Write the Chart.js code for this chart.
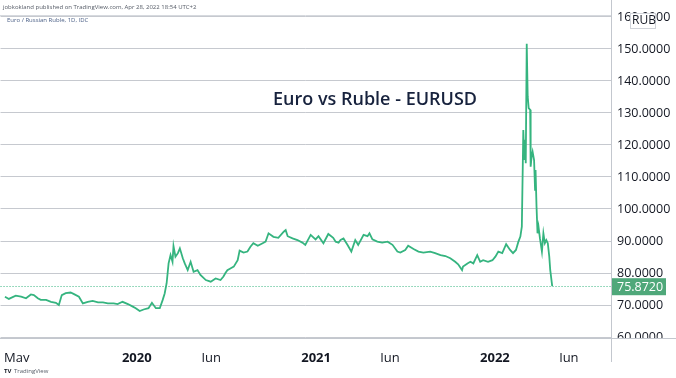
<!DOCTYPE html>
<html>
<head>
<meta charset="utf-8">
<script src="https://cdn.jsdelivr.net/npm/chart.js@4/dist/chart.umd.min.js"></script>
<style>
  html, body { margin: 0; padding: 0; background: #fff; }
  canvas { display: block; }
</style>
</head>
<body>
<canvas id="eurRubChart" width="676" height="378"></canvas>
<script>
// EUR/RUB daily close
const dates = [
  '2019-04-07','2019-04-15','2019-04-29','2019-05-10','2019-05-20','2019-05-30','2019-06-05','2019-06-13','2019-06-19','2019-06-30',
  '2019-07-10','2019-07-20','2019-07-26','2019-08-01','2019-08-09','2019-08-19','2019-08-26','2019-09-05','2019-09-13','2019-09-23',
  '2019-10-03','2019-10-14','2019-10-24','2019-11-03','2019-11-15','2019-11-23','2019-12-03','2019-12-14','2019-12-24','2019-12-30',
  '2020-01-07','2020-01-15','2020-01-25','2020-02-01','2020-02-09','2020-02-17','2020-02-23','2020-02-27','2020-03-02','2020-03-06',
  '2020-03-10','2020-03-14','2020-03-16','2020-03-20','2020-03-25','2020-03-29','2020-04-04','2020-04-08','2020-04-14','2020-04-20',
  '2020-04-26','2020-05-04','2020-05-10','2020-05-21','2020-05-31','2020-06-10','2020-06-20','2020-06-26','2020-06-30','2020-07-04',
  '2020-07-11','2020-07-17','2020-07-25','2020-07-29','2020-08-06','2020-08-14','2020-08-20','2020-08-26','2020-09-04','2020-09-14',
  '2020-09-20','2020-09-26','2020-10-06','2020-10-16','2020-10-27','2020-10-31','2020-11-04','2020-11-14','2020-11-24','2020-12-04',
  '2020-12-10','2020-12-21','2020-12-31','2021-01-06','2021-01-16','2021-01-26','2021-02-05','2021-02-10','2021-02-16','2021-02-20',
  '2021-02-26','2021-03-06','2021-03-14','2021-03-22','2021-03-28','2021-04-08','2021-04-16','2021-04-20','2021-04-26','2021-05-06',
  '2021-05-16','2021-05-27','2021-06-06','2021-06-16','2021-06-22','2021-07-02','2021-07-08','2021-07-19','2021-07-29','2021-08-08',
  '2021-08-22','2021-09-01','2021-09-12','2021-09-22','2021-10-02','2021-10-12','2021-10-18','2021-10-26','2021-10-28','2021-11-06',
  '2021-11-12','2021-11-18','2021-11-26','2021-12-02','2021-12-08','2021-12-18','2021-12-27','2022-01-02','2022-01-08','2022-01-16',
  '2022-01-24','2022-02-01','2022-02-07','2022-02-13','2022-02-18','2022-02-22','2022-02-25','2022-02-27','2022-02-28','2022-03-02',
  '2022-03-04','2022-03-05','2022-03-07','2022-03-09','2022-03-11','2022-03-14','2022-03-15','2022-03-17','2022-03-19','2022-03-22',
  '2022-03-24','2022-03-25','2022-03-27','2022-03-29','2022-03-31','2022-04-03','2022-04-07','2022-04-10','2022-04-13','2022-04-16',
  '2022-04-19','2022-04-22','2022-04-24','2022-04-28'
];
const rates = [
  72.6, 71.9, 72.9, 72.6, 72.1, 73.3, 73.1, 72.1, 71.6, 71.6,
  71.0, 70.7, 70.0, 73.1, 73.7, 73.9, 73.4, 72.6, 70.5, 71.0,
  71.3, 70.8, 70.8, 70.5, 70.5, 70.3, 71.0, 70.3, 69.5, 69.0,
  68.1, 68.6, 69.0, 70.7, 69.0, 69.0, 71.6, 73.6, 76.8, 83.0,
  85.6, 83.5, 88.4, 85.1, 86.2, 87.7, 84.6, 83.0, 80.9, 83.5,
  80.4, 80.9, 79.4, 77.8, 77.3, 78.3, 77.8, 78.9, 80.0, 80.9,
  81.5, 82.0, 84.0, 87.0, 86.4, 86.7, 88.2, 89.3, 88.5, 89.3,
  89.8, 92.4, 91.3, 91.0, 92.9, 93.4, 91.5, 90.8, 90.3, 89.5,
  88.8, 91.9, 90.5, 91.5, 89.3, 92.2, 91.0, 89.8, 89.5, 90.3,
  90.8, 88.8, 86.7, 90.3, 88.8, 91.9, 91.5, 92.4, 90.5, 89.8,
  89.5, 89.8, 88.8, 86.7, 86.4, 87.2, 88.5, 87.5, 86.7, 86.4,
  86.7, 86.2, 85.6, 85.3, 84.6, 83.5, 82.7, 80.9, 82.0, 83.0,
  83.5, 83.0, 85.6, 83.5, 84.0, 83.5, 84.0, 85.1, 86.7, 86.2,
  89.0, 87.2, 86.2, 87.2, 89.8, 91.4, 94.5, 114.3, 124.7, 115.3,
  121.6, 114.3, 151.6, 135.1, 131.5, 131.0, 113.2, 116.4, 117.9, 115.3,
  106.0, 112.2, 100.7, 92.4, 94.5, 90.8, 86.7, 92.4, 89.3, 90.3,
  89.3, 85.1, 80.9, 75.872
];

const tickDates = ['2019-05-01', '2020-01-01', '2020-06-01', '2021-01-01', '2021-06-01', '2022-01-01', '2022-06-01'];
const tickLabels = ['May', '2020', 'Jun', '2021', 'Jun', '2022', 'Jun'];
const yTicks = [60, 70, 80, 90, 100, 110, 120, 130, 140, 150, 160];

const lastPrice = 75.872;
const lineColor = '#35b47f';
const boxColor = '#4fa87a';
const gridColor = '#c6c9cf';
const textColor = '#131722';

const toDay = s => Date.parse(s + 'T00:00:00Z') / 86400000;
const points = dates.map((d, i) => ({ x: toDay(d), y: rates[i] }));
const tickDays = tickDates.map(toDay);

const overlay = {
  id: 'overlay',
  beforeDatasetsDraw(chart) {
    const { ctx, chartArea } = chart;
    const y = chart.scales.y.getPixelForValue(lastPrice);
    ctx.save();
    ctx.strokeStyle = lineColor;
    ctx.lineWidth = 1;
    ctx.setLineDash([1, 2]);
    ctx.beginPath();
    ctx.moveTo(chartArea.left, Math.round(y) + 0.5);
    ctx.lineTo(chartArea.right, Math.round(y) + 0.5);
    ctx.stroke();
    ctx.restore();
  },
  afterDraw(chart) {
    const { ctx, chartArea, width } = chart;
    const yScale = chart.scales.y;
    ctx.save();

    // clip y labels below the time axis line
    ctx.fillStyle = '#fff';
    ctx.fillRect(chartArea.right + 1, chartArea.bottom + 1, width - chartArea.right, 24);

    // pane borders
    ctx.strokeStyle = '#c3c7ce';
    ctx.lineWidth = 1;
    ctx.beginPath();
    ctx.moveTo(0, chartArea.bottom + 0.5);
    ctx.lineTo(width, chartArea.bottom + 0.5);
    ctx.moveTo(chartArea.right + 0.5, 0);
    ctx.lineTo(chartArea.right + 0.5, chartArea.bottom + 24);
    ctx.stroke();
    ctx.strokeStyle = '#d6d9de';
    ctx.beginPath();
    ctx.moveTo(0, chartArea.top + 0.5);
    ctx.lineTo(chartArea.right, chartArea.top + 0.5);
    ctx.stroke();

    // last price label
    const py = yScale.getPixelForValue(lastPrice);
    ctx.fillStyle = boxColor;
    ctx.fillRect(chartArea.right + 1, py - 8, 54, 17);
    ctx.fillStyle = '#fff';
    ctx.font = '12.5px "Open Sans"';
    ctx.textBaseline = 'middle';
    ctx.textAlign = 'left';
    ctx.fillText(lastPrice.toFixed(4), chartArea.right + 6, py + 1);

    // currency label
    ctx.fillStyle = '#fff';
    ctx.strokeStyle = '#d0d3d9';
    ctx.fillRect(630, 13, 25, 15);
    ctx.strokeRect(630.5, 13.5, 25, 15);
    ctx.fillStyle = textColor;
    ctx.font = '12px "Open Sans"';
    ctx.fillText('RUB', 632, 21);

    // header texts
    ctx.font = '6px "Open Sans"';
    ctx.fillStyle = '#555b66';
    ctx.fillText('jobkokland published on TradingView.com, Apr 28, 2022 18:54 UTC+2', 3, 7);
    ctx.fillStyle = '#4a5f86';
    ctx.fillText('Euro / Russian Ruble, 1D, IDC', 7, 20);

    // chart title
    ctx.font = '600 18px "Open Sans"';
    ctx.fillStyle = '#17223d';
    ctx.textAlign = 'center';
    ctx.fillText('Euro vs Ruble - EURUSD', 375, 100);

    // watermark
    ctx.textAlign = 'left';
    ctx.font = 'bold 6px "Open Sans"';
    ctx.fillStyle = '#131722';
    ctx.fillText('TV', 4, 371);
    ctx.font = '6px "Open Sans"';
    ctx.fillStyle = '#555b66';
    ctx.fillText('TradingView', 14, 371);
    ctx.restore();
  }
};

new Chart(document.getElementById('eurRubChart'), {
  type: 'line',
  data: {
    datasets: [{
      label: 'EUR/RUB',
      data: points,
      borderColor: lineColor,
      borderWidth: 1.8,
      pointRadius: 0,
      tension: 0
    }]
  },
  options: {
    responsive: false,
    animation: false,
    layout: { padding: { top: 15, left: 0, right: 0, bottom: 16 } },
    plugins: { legend: { display: false }, tooltip: { enabled: false } },
    scales: {
      x: {
        type: 'linear',
        min: toDay('2019-03-29'),
        max: toDay('2022-08-26'),
        afterBuildTicks: s => { s.ticks = tickDays.map(v => ({ value: v })); },
        afterFit: s => { s.height = 24; },
        grid: { display: false },
        border: { display: false },
        ticks: {
          autoSkip: false,
          maxRotation: 0,
          padding: 4,
          color: textColor,
          font: ctx => ({ family: 'Open Sans', size: 13, weight: /^\d/.test(tickLabels[ctx.index] || '') ? 'bold' : 'normal' }),
          callback: (v, i) => tickLabels[i]
        }
      },
      y: {
        position: 'right',
        min: 59.69,
        max: 160.62,
        afterBuildTicks: s => { s.ticks = yTicks.map(v => ({ value: v })); },
        afterFit: s => { s.width = 65; },
        grid: { color: gridColor, drawTicks: false },
        border: { display: false },
        ticks: {
          padding: 6,
          color: textColor,
          font: { family: 'Open Sans', size: 12.5 },
          callback: v => v.toFixed(4)
        }
      }
    }
  },
  plugins: [overlay]
});
</script>
</body>
</html>
